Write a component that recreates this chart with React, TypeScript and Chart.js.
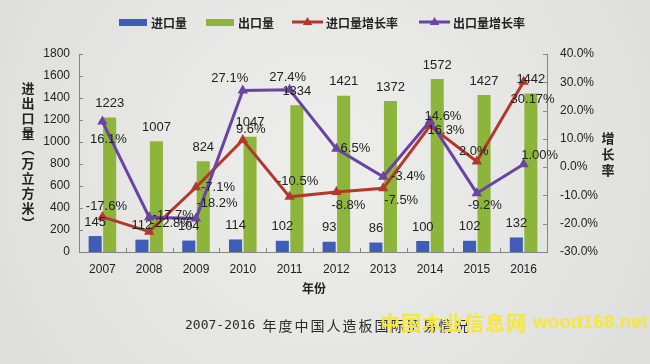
import React, { useEffect, useRef } from 'react';
import { Chart, registerables } from 'chart.js';

Chart.register(...registerables);

// ---------- data ----------
const years = ['2007', '2008', '2009', '2010', '2011', '2012', '2013', '2014', '2015', '2016'];
const importVolume = [145, 112, 104, 114, 102, 93, 86, 100, 102, 132];
const exportVolume = [1223, 1007, 824, 1047, 1334, 1421, 1372, 1572, 1427, 1442];
const importGrowth = [-17.6, -22.8, -7.1, 9.6, -10.5, -8.8, -7.5, 14.6, 2.0, 30.17];
const exportGrowth = [16.1, -17.7, -18.2, 27.1, 27.4, 6.5, -3.4, 16.3, -9.2, 1.0];
const importGrowthDecimals = [1, 1, 1, 1, 1, 1, 1, 1, 1, 2];
const exportGrowthDecimals = [1, 1, 1, 1, 1, 1, 1, 1, 1, 2];
const seriesNames = ['进口量', '出口量', '进口量增长率', '出口量增长率'];
const leftAxisTitle = '进出口量（万立方米）';
const rightAxisTitle = '增长率';
const xAxisTitle = '年份';
const chartTitle = '2007-2016 年度中国人造板国际贸易情况';
const watermarkCn = '中国木业信息网';
const watermarkEn = 'wood168.net';

// ---------- label placement (layout only) ----------
const importRateLabelOffset = [[4, -11], [22, -8], [22, 0], [8, -11], [8, -15], [12, 13], [18, 12], [13, -9], [-3, -10], [9, 18]];
const exportRateLabelOffset = [[6, 18], [24, -2], [21, -15], [-13, -12], [-2, -12], [19, 0], [25, 0], [16, 9], [8, 12], [16, -9]];

const COLORS = {
  imp: '#3f5db6',
  exp: '#8db53c',
  impRate: '#b3382c',
  expRate: '#6a43a3',
  axis: '#858585',
  text: '#222222',
  bg: '#e8e8e6',
};

const NUM_FONT = '"Liberation Sans", Arial, sans-serif';
const CJK_FONT = '"Noto Sans CJK SC", sans-serif';

function triangle(ctx: CanvasRenderingContext2D, x: number, y: number, r: number, color: string) {
  ctx.beginPath();
  ctx.moveTo(x, y - r);
  ctx.lineTo(x + r * 0.95, y + r * 0.6);
  ctx.lineTo(x - r * 0.95, y + r * 0.6);
  ctx.closePath();
  ctx.fillStyle = color;
  ctx.fill();
}

const extrasPlugin = {
  id: 'extras',
  beforeDraw(chart: any) {
    const { ctx, width, height } = chart;
    ctx.save();
    const g = ctx.createRadialGradient(width * 0.5, height * 0.45, 50, width * 0.5, height * 0.45, 420);
    g.addColorStop(0, '#ececea');
    g.addColorStop(1, '#dcdcda');
    ctx.fillStyle = g;
    ctx.fillRect(0, 0, width, height);
    ctx.restore();
  },
  afterDraw(chart: any) {
    const { ctx, chartArea, scales } = chart;
    ctx.save();
    // inward tick marks
    ctx.strokeStyle = COLORS.axis;
    ctx.lineWidth = 1;
    const yL = scales.y;
    yL.ticks.forEach((_t: any, i: number) => {
      const py = Math.round(yL.getPixelForTick(i)) + 0.5;
      ctx.beginPath();
      ctx.moveTo(chartArea.left, py);
      ctx.lineTo(chartArea.left + 4, py);
      ctx.stroke();
    });
    const yR = scales.y1;
    yR.ticks.forEach((_t: any, i: number) => {
      const py = Math.round(yR.getPixelForTick(i)) + 0.5;
      ctx.beginPath();
      ctx.moveTo(chartArea.right, py);
      ctx.lineTo(chartArea.right - 4, py);
      ctx.stroke();
    });
    const xs = scales.x;
    for (let i = 0; i <= years.length; i++) {
      const px = Math.round(xs.getPixelForValue(i - 0.5)) + 0.5;
      ctx.beginPath();
      ctx.moveTo(px, chartArea.bottom);
      ctx.lineTo(px, chartArea.bottom - 4);
      ctx.stroke();
    }

    // legend
    ctx.textBaseline = 'middle';
    ctx.textAlign = 'left';
    ctx.font = `bold 12px ${CJK_FONT}`;
    const ly = 22;
    const items = [
      { x: 119, kind: 'bar', color: COLORS.imp },
      { x: 206, kind: 'bar', color: COLORS.exp },
      { x: 292, kind: 'line', color: COLORS.impRate },
      { x: 419, kind: 'line', color: COLORS.expRate },
    ];
    items.forEach((it, i) => {
      if (it.kind === 'bar') {
        ctx.fillStyle = it.color;
        ctx.fillRect(it.x, ly - 3, 28, 7);
      } else {
        ctx.strokeStyle = it.color;
        ctx.lineWidth = 3;
        ctx.beginPath();
        ctx.moveTo(it.x, ly);
        ctx.lineTo(it.x + 31, ly);
        ctx.stroke();
        triangle(ctx, it.x + 15.5, ly, 5, it.color);
      }
      ctx.fillStyle = COLORS.text;
      ctx.fillText(seriesNames[i], it.x + (it.kind === 'bar' ? 32 : 34), ly + 1);
    });

    // left axis title (vertical stacked)
    ctx.textAlign = 'center';
    ctx.font = `bold 13px ${CJK_FONT}`;
    const leftChars = Array.from(leftAxisTitle).map((c) => (c === '（' ? '︵' : c === '）' ? '︶' : c));
    leftChars.forEach((c, i) => {
      ctx.fillText(c, 28, 88 + i * 15);
    });
    // right axis title
    rightAxisTitle.split('').forEach((c, i) => {
      ctx.fillText(c, 608, 138 + i * 16);
    });
    // x axis title
    ctx.font = `bold 12px ${CJK_FONT}`;
    ctx.fillText(xAxisTitle, 314, 288);

    // chart title
    ctx.textAlign = 'left';
    ctx.fillStyle = '#2a2a2a';
    const [yearsPart, rest] = [chartTitle.slice(0, 9), chartTitle.slice(9)];
    ctx.font = `13px "DejaVu Sans Mono", monospace`;
    ctx.fillText(yearsPart, 185, 326);
    const w1 = ctx.measureText(yearsPart).width;
    ctx.font = `14px ${CJK_FONT}`;
    (ctx as any).letterSpacing = '2px';
    ctx.fillText(rest, 185 + w1 + 2, 326);
    (ctx as any).letterSpacing = '0px';

    // watermark
    ctx.fillStyle = 'rgba(246, 232, 50, 0.95)';
    ctx.font = `bold 20px ${CJK_FONT}`;
    (ctx as any).letterSpacing = '1px';
    ctx.fillText(watermarkCn, 380, 323);
    (ctx as any).letterSpacing = '0px';
    ctx.font = `bold 19px ${NUM_FONT}`;
    ctx.fillText(watermarkEn, 533, 323);
    ctx.restore();
  },
  afterDatasetsDraw(chart: any) {
    const { ctx } = chart;
    ctx.save();
    ctx.fillStyle = COLORS.text;
    ctx.textAlign = 'center';
    ctx.textBaseline = 'middle';
    ctx.font = `13px ${NUM_FONT}`;
    const m0 = chart.getDatasetMeta(0);
    const m1 = chart.getDatasetMeta(1);
    const m2 = chart.getDatasetMeta(2);
    const m3 = chart.getDatasetMeta(3);
    m0.data.forEach((el: any, i: number) => {
      ctx.fillText(String(importVolume[i]), el.x, el.y - 14);
    });
    m1.data.forEach((el: any, i: number) => {
      ctx.fillText(String(exportVolume[i]), el.x, el.y - 14);
    });
    m2.data.forEach((el: any, i: number) => {
      const [dx, dy] = importRateLabelOffset[i];
      ctx.fillText(importGrowth[i].toFixed(importGrowthDecimals[i]) + '%', el.x + dx, el.y + dy);
    });
    m3.data.forEach((el: any, i: number) => {
      const [dx, dy] = exportRateLabelOffset[i];
      ctx.fillText(exportGrowth[i].toFixed(exportGrowthDecimals[i]) + '%', el.x + dx, el.y + dy);
    });
    ctx.restore();
  },
};

export default function App() {
  const canvasRef = useRef<HTMLCanvasElement | null>(null);

  useEffect(() => {
    document.body.style.margin = '0';
    document.body.style.background = COLORS.bg;
    const canvas = canvasRef.current;
    if (!canvas) return;
    const tickFont = { family: NUM_FONT, size: 12 };
    const chart = new Chart(canvas, {
      type: 'bar',
      data: {
        labels: years,
        datasets: [
          {
            type: 'bar',
            label: seriesNames[0],
            data: importVolume,
            backgroundColor: COLORS.imp,
            yAxisID: 'y',
            categoryPercentage: 0.62,
            barPercentage: 0.9,
            order: 2,
          },
          {
            type: 'bar',
            label: seriesNames[1],
            data: exportVolume,
            backgroundColor: COLORS.exp,
            yAxisID: 'y',
            categoryPercentage: 0.62,
            barPercentage: 0.9,
            order: 2,
          },
          {
            type: 'line',
            label: seriesNames[2],
            data: importGrowth,
            borderColor: COLORS.impRate,
            backgroundColor: COLORS.impRate,
            borderWidth: 3,
            pointStyle: 'triangle',
            pointRadius: 6,
            pointBorderWidth: 0,
            yAxisID: 'y1',
            order: 1,
          },
          {
            type: 'line',
            label: seriesNames[3],
            data: exportGrowth,
            borderColor: COLORS.expRate,
            backgroundColor: COLORS.expRate,
            borderWidth: 3,
            pointStyle: 'triangle',
            pointRadius: 6,
            pointBorderWidth: 0,
            yAxisID: 'y1',
            order: 0,
          },
        ] as any,
      },
      options: {
        responsive: false,
        animation: false,
        devicePixelRatio: 1,
        layout: { padding: { top: 54, left: 0, right: 0, bottom: 0 } },
        plugins: {
          legend: { display: false },
          tooltip: { enabled: false },
        },
        scales: {
          x: {
            grid: { display: false, drawTicks: false },
            border: { color: COLORS.axis },
            ticks: { font: tickFont, color: COLORS.text, padding: 10 },
            afterFit: (s: any) => {
              s.height = 112;
            },
          },
          y: {
            position: 'left',
            min: 0,
            max: 1800,
            grid: { display: false, drawTicks: false },
            border: { color: COLORS.axis },
            ticks: {
              stepSize: 200,
              font: tickFont,
              color: COLORS.text,
              padding: 9,
              callback: (v: any) => String(v),
            },
            afterFit: (s: any) => {
              s.width = 79;
            },
          },
          y1: {
            position: 'right',
            min: -30,
            max: 40,
            grid: { display: false, drawTicks: false },
            border: { color: COLORS.axis },
            ticks: {
              stepSize: 10,
              font: tickFont,
              color: COLORS.text,
              padding: 13,
              callback: (v: any) => Number(v).toFixed(1) + '%',
            },
            afterFit: (s: any) => {
              s.width = 103;
            },
          },
        },
      } as any,
      plugins: [extrasPlugin],
    });
    return () => chart.destroy();
  }, []);

  return (
    <div style={{ width: 650, height: 364, background: COLORS.bg }}>
      <canvas ref={canvasRef} width={650} height={364} style={{ display: 'block' }} />
    </div>
  );
}
